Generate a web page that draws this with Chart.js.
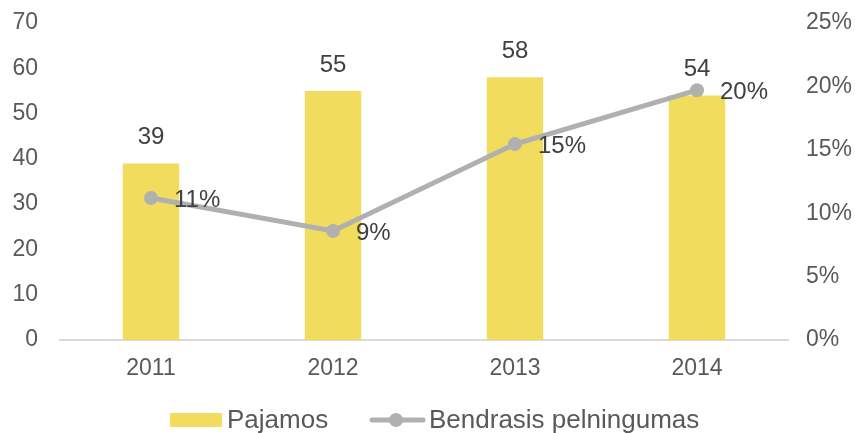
<!DOCTYPE html>
<html>
<head>
<meta charset="utf-8">
<script src="https://cdn.jsdelivr.net/npm/chart.js@4/dist/chart.umd.min.js"></script>
<style>
  html, body { margin: 0; padding: 0; background: #fff; overflow: hidden; }
  #wrap { width: 855px; height: 433px; position: relative; }
</style>
</head>
<body>
<div id="wrap"><canvas id="chart"></canvas></div>
<script>
var years = ["2011", "2012", "2013", "2014"];
var pajamos = [39, 55, 58, 54];
var pelningumas = [11.2, 8.6, 15.45, 19.7];
var leftTicks = [0, 10, 20, 30, 40, 50, 60, 70];
var rightTicks = [0, 5, 10, 15, 20, 25];

var FONT = "'Liberation Sans', Arial, sans-serif";
var barColor = "#F2DC5D";
var lineColor = "#B0B0B0";

// labels above bars, percent labels to the right of points, and the legend
var labelsPlugin = {
  id: "labels",
  afterDatasetsDraw: function (chart) {
    var ctx = chart.ctx;
    ctx.save();
    ctx.fillStyle = "#404040";
    ctx.font = "24px " + FONT;
    ctx.textBaseline = "middle";

    // dataset 0 = line, dataset 1 = bars
    chart.getDatasetMeta(1).data.forEach(function (bar, i) {
      ctx.textAlign = "center";
      ctx.fillText(pajamos[i], bar.x, bar.y - 26);
    });
    chart.getDatasetMeta(0).data.forEach(function (pt, i) {
      ctx.textAlign = "left";
      ctx.fillText(Math.round(pelningumas[i]) + "%", pt.x + 23, pt.y + 2);
    });

    // legend
    var ly = 420;
    ctx.fillStyle = barColor;
    ctx.fillRect(170, ly - 7, 52, 14);
    ctx.fillStyle = "#595959";
    ctx.font = "26px " + FONT;
    ctx.textAlign = "left";
    ctx.fillText("Pajamos", 227, ly + 1);

    ctx.strokeStyle = lineColor;
    ctx.lineWidth = 5;
    ctx.lineCap = "round";
    ctx.beginPath();
    ctx.moveTo(372, ly);
    ctx.lineTo(423, ly);
    ctx.stroke();
    ctx.fillStyle = lineColor;
    ctx.beginPath();
    ctx.arc(396, ly, 7, 0, Math.PI * 2);
    ctx.fill();
    ctx.fillStyle = "#595959";
    ctx.fillText("Bendrasis pelningumas", 429, ly + 1);
    ctx.restore();
  }
};

function noVertPad(s, w) {
  s.width = w;
  s.paddingTop = 0;
  s.paddingBottom = 0;
}

new Chart(document.getElementById("chart"), {
  type: "bar",
  data: {
    labels: years,
    datasets: [
      {
        type: "line",
        label: "Bendrasis pelningumas",
        data: pelningumas,
        yAxisID: "y1",
        borderColor: lineColor,
        backgroundColor: lineColor,
        borderWidth: 5,
        pointRadius: 7,
        pointBackgroundColor: lineColor,
        pointBorderWidth: 0,
        tension: 0,
        order: 0
      },
      {
        label: "Pajamos",
        data: pajamos,
        yAxisID: "y",
        backgroundColor: barColor,
        categoryPercentage: 1,
        barPercentage: 0.31,
        order: 1
      }
    ]
  },
  options: {
    responsive: true,
    maintainAspectRatio: false,
    animation: false,
    layout: { padding: { top: 23, bottom: 48, left: 0, right: 0 } },
    plugins: { legend: { display: false }, tooltip: { enabled: false } },
    scales: {
      x: {
        grid: { display: false, drawTicks: false },
        border: { display: true, color: "#D9D9D9", width: 2 },
        ticks: { color: "#595959", font: { family: FONT, size: 23 }, padding: 15 },
        afterFit: function (s) { s.height = 45; s.paddingLeft = 0; s.paddingRight = 0; }
      },
      y: {
        position: "left",
        min: 0,
        max: 70,
        grid: { display: false, drawTicks: false },
        border: { display: false },
        afterBuildTicks: function (s) { s.ticks = leftTicks.map(function (v) { return { value: v }; }); },
        ticks: { color: "#595959", font: { family: FONT, size: 23 }, padding: 22 },
        afterFit: function (s) { noVertPad(s, 60); }
      },
      y1: {
        position: "right",
        min: 0,
        max: 25,
        grid: { display: false, drawTicks: false },
        border: { display: false },
        afterBuildTicks: function (s) { s.ticks = rightTicks.map(function (v) { return { value: v }; }); },
        ticks: {
          color: "#595959",
          font: { family: FONT, size: 23 },
          padding: 18,
          callback: function (v) { return v + "%"; }
        },
        afterFit: function (s) { noVertPad(s, 67); }
      }
    }
  },
  plugins: [labelsPlugin]
});
</script>
</body>
</html>
